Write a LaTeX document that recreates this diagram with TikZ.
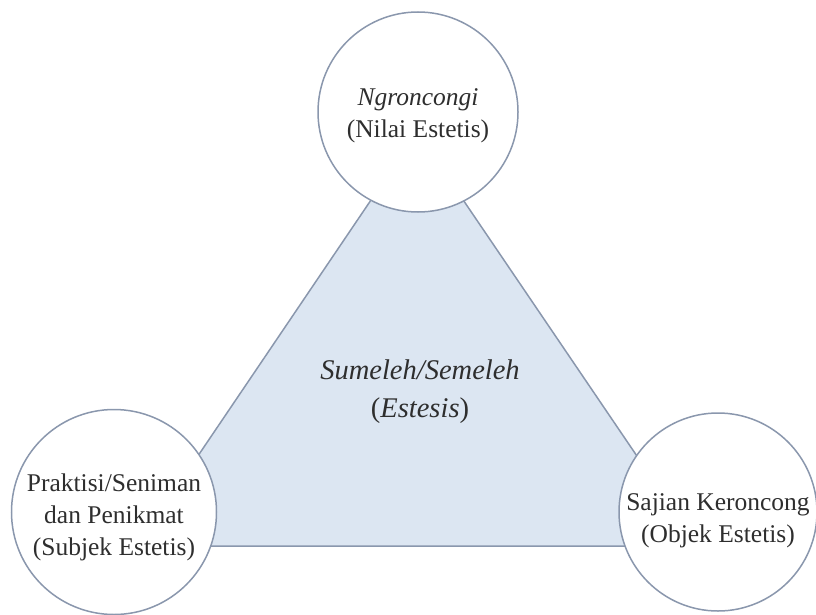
\documentclass[tikz,border=0pt]{standalone}
\usepackage{fontspec}
\setmainfont{Liberation Serif}
\definecolor{edge}{HTML}{8A97AD}
\definecolor{tri}{HTML}{DCE6F2}
\definecolor{txt}{HTML}{2E2E2E}
\newcommand{\lift}[1]{\rule{0pt}{#1}}
\begin{document}
\begin{tikzpicture}[x=1pt,y=-1pt,
  circ/.style={circle,draw=edge,line width=1.5pt,fill=white,inner sep=0pt,align=center,text=txt,
    font=\fontsize{25.5}{32}\selectfont},
  centre/.style={align=center,text=txt,font=\fontsize{28.5}{38}\selectfont}]
\useasboundingbox (0,0) rectangle (816,615);
\coordinate (apex) at (417,132);
\coordinate (bl) at (137,546);
\coordinate (br) at (698,546);
\filldraw[fill=tri,draw=edge,line width=1.5pt,line join=miter] (apex) -- (bl) -- (br) -- cycle;
\node[circ,minimum size=200pt] (top) at (418,112) {\lift{25pt}\textit{Ngroncongi}\\(Nilai Estetis)};
\node[circ,minimum size=205pt] (left) at (114,512) {\lift{29pt}Praktisi/Seniman\\dan Penikmat\\(Subjek Estetis)};
\node[circ,minimum size=198pt] (right) at (718,512) {\lift{35pt}Sajian Keroncong\\(Objek Estetis)};
\node[centre] (mid) at (420,392) {\textit{Sumeleh/Semeleh}\\(\textit{Estesis})};
\end{tikzpicture}
\end{document}
